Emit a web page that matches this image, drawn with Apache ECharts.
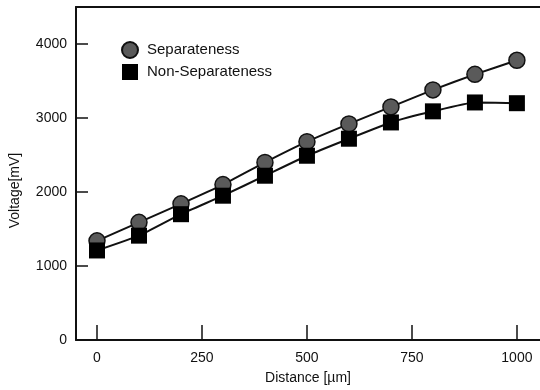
<!DOCTYPE html>
<html>
<head>
<meta charset="utf-8">
<script src="https://cdn.jsdelivr.net/npm/echarts@6/dist/echarts.min.js"></script>
<style>
  html, body { margin: 0; padding: 0; background: #fff; }
  #chart { width: 540px; height: 390px; }
</style>
</head>
<body>
<div id="chart"></div>
<script>
// distance in µm
const distance = [0, 100, 200, 300, 400, 500, 600, 700, 800, 900, 1000];
// voltage in mV
const separateness = [1340, 1590, 1840, 2100, 2400, 2680, 2920, 3150, 3380, 3590, 3780];
const nonSeparateness = [1210, 1410, 1700, 1950, 2220, 2490, 2720, 2940, 3090, 3210, 3200];
// tick labels
const xTicks = [0, 250, 500, 750, 1000];
const yTicks = [1000, 2000, 3000, 4000];
const yLabels = [0, 1000, 2000, 3000, 4000];

const font = 'Liberation Sans, Arial, sans-serif';
const chart = echarts.init(document.getElementById('chart'));

function pairs(vals) {
  return distance.map((d, i) => [d, vals[i]]);
}

chart.setOption({
  animation: false,
  backgroundColor: '#fff',
  textStyle: { fontFamily: font, color: '#111' },
  grid: { left: 75, right: 0, top: 7, bottom: 49 },
  legend: {
    orient: 'vertical',
    left: 121,
    top: 41,
    padding: 0,
    itemGap: 5,
    itemWidth: 16,
    itemHeight: 16,
    textStyle: { fontFamily: font, fontSize: 15, color: '#111', padding: [0, 0, 0, 4] },
    data: [
      { name: 'Separateness', icon: 'circle' },
      { name: 'Non-Separateness', icon: 'rect' }
    ]
  },
  xAxis: [
    {
      type: 'value',
      min: -50,
      max: 1055,
      name: 'Distance [\u00b5m]',
      nameLocation: 'middle',
      nameGap: 31,
      nameTextStyle: { fontFamily: font, fontSize: 14, color: '#111' },
      axisLine: { onZero: false, lineStyle: { color: '#111', width: 2 } },
      axisTick: { inside: true, length: 15, lineStyle: { color: '#111', width: 1.5 }, customValues: xTicks },
      axisLabel: { fontFamily: font, fontSize: 14, color: '#111', margin: 11, customValues: xTicks, formatter: v => String(v) },
      splitLine: { show: false }
    },
    {
      type: 'value',
      position: 'top',
      min: -50,
      max: 1055,
      axisLine: { show: true, onZero: false, lineStyle: { color: '#111', width: 2 } },
      axisTick: { show: false },
      axisLabel: { show: false },
      splitLine: { show: false }
    }
  ],
  yAxis: {
    type: 'value',
    min: 0,
    max: 4500,
    name: 'Voltage[mV]',
    nameLocation: 'middle',
    nameRotate: 90,
    nameGap: 54,
    nameTextStyle: { fontFamily: font, fontSize: 14, color: '#111', padding: [0, 34, 0, 0] },
    axisLine: { show: true, onZero: false, lineStyle: { color: '#111', width: 2 } },
    axisTick: { inside: true, length: 12, lineStyle: { color: '#111', width: 1.5 }, customValues: yTicks },
    axisLabel: { fontFamily: font, fontSize: 14, color: '#111', margin: 9, customValues: yLabels, formatter: v => String(v) },
    splitLine: { show: false }
  },
  series: [
    {
      name: 'Separateness',
      type: 'line',
      data: pairs(separateness),
      smooth: 0.15,
      symbol: 'circle',
      symbolSize: 16,
      lineStyle: { color: '#111', width: 2 },
      itemStyle: { color: '#5a5a5a', borderColor: '#111', borderWidth: 1.5 }
    },
    {
      name: 'Non-Separateness',
      type: 'line',
      data: pairs(nonSeparateness),
      smooth: 0.15,
      symbol: 'rect',
      symbolSize: 16,
      lineStyle: { color: '#111', width: 2 },
      itemStyle: { color: '#000', borderColor: '#000', borderWidth: 0 }
    }
  ]
});
</script>
</body>
</html>
